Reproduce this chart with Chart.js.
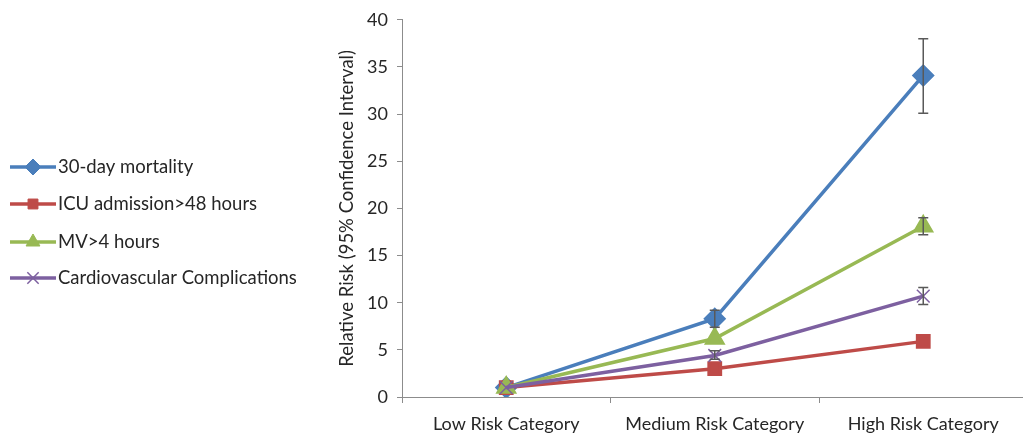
<!DOCTYPE html>
<html>
<head>
<meta charset="utf-8">
<script src="https://cdn.jsdelivr.net/npm/chart.js@4/dist/chart.umd.min.js"></script>
<style>
  html, body { margin: 0; padding: 0; background: #fff; overflow: hidden; }
  #wrap { width: 1040px; height: 436px; position: relative; }
</style>
</head>
<body>
<div id="wrap"><canvas id="c"></canvas></div>
<script>
// Risk categories on the x axis
const categories = ['Low Risk Category', 'Medium Risk Category', 'High Risk Category'];

// Relative risk per outcome
const mortality = [1.0, 8.3, 34.1];
const icuAdmission = [1.0, 3.0, 5.9];
const mechVent = [1.0, 6.2, 18.1];
const cardioComp = [1.0, 4.4, 10.7];

// 95% confidence interval bounds (null = no bar drawn)
const mortalityLow  = [null, 7.4, 30.1];
const mortalityHigh = [null, 9.2, 38.0];
const mechVentLow   = [null, null, 17.2];
const mechVentHigh  = [null, null, 19.0];
const cardioLow     = [null, 4.0, 9.8];
const cardioHigh    = [null, 4.9, 11.6];

// Y axis tick values
const yTicks = [0, 5, 10, 15, 20, 25, 30, 35, 40];

const FONT = 'Lato, "Open Sans", sans-serif';
const TEXT = '#262626';
const AXIS = '#8c8c8c';

const errorBars = [
  { ds: 0, low: mortalityLow, high: mortalityHigh },
  { ds: 2, low: mechVentLow, high: mechVentHigh },
  { ds: 3, low: cardioLow, high: cardioHigh }
];

// Vertical whiskers with caps for the confidence intervals
const errorBarPlugin = {
  id: 'errorBars',
  afterDatasetsDraw(chart) {
    const ctx = chart.ctx;
    const x = chart.scales.x, y = chart.scales.y;
    ctx.save();
    ctx.strokeStyle = '#595959';
    ctx.lineWidth = 1.5;
    errorBars.forEach(eb => {
      eb.low.forEach((lo, i) => {
        const hi = eb.high[i];
        if (lo == null || hi == null) return;
        const px = x.getPixelForValue(i);
        const y1 = y.getPixelForValue(lo), y2 = y.getPixelForValue(hi);
        ctx.beginPath();
        ctx.moveTo(px, y1); ctx.lineTo(px, y2);
        ctx.moveTo(px - 5, y1); ctx.lineTo(px + 5, y1);
        ctx.moveTo(px - 5, y2); ctx.lineTo(px + 5, y2);
        ctx.stroke();
      });
    });
    ctx.restore();
  }
};

// Legend on the left: line sample with marker, then label
const sideLegendPlugin = {
  id: 'sideLegend',
  afterDraw(chart) {
    const ctx = chart.ctx;
    const rows = [167, 204, 242, 278];
    ctx.save();
    chart.data.datasets.forEach((ds, i) => {
      const cy = rows[i];
      ctx.strokeStyle = ds.borderColor;
      ctx.lineWidth = ds.borderWidth;
      ctx.beginPath();
      ctx.moveTo(10, cy); ctx.lineTo(56, cy);
      ctx.stroke();
      ctx.fillStyle = ds.borderColor;
      ctx.lineWidth = ds.pointBorderWidth || 1;
      Chart.helpers.drawPoint(ctx, {
        pointStyle: ds.pointStyle,
        radius: ds.pointRadius - 1,
        borderWidth: ds.pointBorderWidth || 1
      }, 33, cy);
      ctx.fillStyle = TEXT;
      ctx.font = '18.5px ' + FONT;
      ctx.textBaseline = 'middle';
      ctx.textAlign = 'left';
      ctx.fillText(ds.label, 58, cy);
    });
    ctx.restore();
  }
};

function series(label, data, color, style, radius, order, extra) {
  return Object.assign({
    label, data, order,
    borderColor: color,
    backgroundColor: color,
    pointBackgroundColor: color,
    pointBorderColor: color,
    borderWidth: 3.5,
    pointStyle: style,
    pointRadius: radius,
    pointHoverRadius: radius,
    tension: 0,
    fill: false
  }, extra || {});
}

new Chart(document.getElementById('c'), {
  type: 'line',
  data: {
    labels: categories,
    datasets: [
      series('30-day mortality', mortality, '#4a7ebb', 'rectRot', 9, 4),
      series('ICU admission>48 hours', icuAdmission, '#be4b48', 'rect', 8, 3),
      series('MV>4 hours', mechVent, '#98b954', 'triangle', 9, 2),
      series('Cardiovascular Complications', cardioComp, '#7d60a0', 'crossRot', 9, 1, { pointBorderWidth: 1.5 })
    ]
  },
  options: {
    responsive: true,
    maintainAspectRatio: false,
    animation: false,
    events: [],
    layout: { padding: { left: 336, right: 8, top: 16, bottom: 2 } },
    plugins: { legend: { display: false }, tooltip: { enabled: false } },
    scales: {
      x: {
        offset: true,
        grid: { offset: true, drawOnChartArea: false, drawTicks: true, tickLength: 6, color: AXIS },
        border: { color: AXIS, width: 1 },
        ticks: { color: TEXT, font: { family: FONT, size: 18 }, padding: 10, maxRotation: 0 },
        afterFit(scale) { scale.height = 37; }
      },
      y: {
        min: 0, max: 40,
        afterBuildTicks(scale) { scale.ticks = yTicks.map(v => ({ value: v })); },
        afterFit(scale) { scale.width = 66; },
        grid: { drawOnChartArea: false, drawTicks: true, tickLength: 5, color: AXIS },
        border: { color: AXIS, width: 1 },
        ticks: { color: TEXT, font: { family: FONT, size: 18 }, padding: 9 },
        title: {
          display: true,
          text: 'Relative Risk (95% Confidence Interval)',
          color: TEXT,
          font: { family: FONT, size: 18.5 },
          padding: { top: 0, bottom: 0 }
        }
      }
    }
  },
  plugins: [errorBarPlugin, sideLegendPlugin]
});
</script>
</body>
</html>
